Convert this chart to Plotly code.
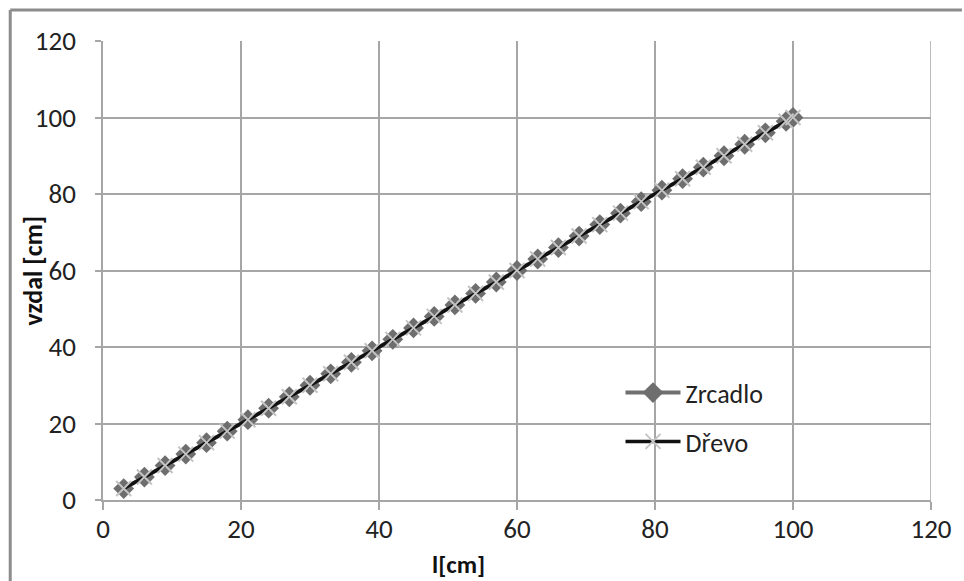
import plotly.graph_objects as go

# Measured distances l [cm] and corresponding readings for each material
l_cm = [3, 6, 9, 12, 15, 18, 21, 24, 27, 30, 33, 36, 39, 42, 45, 48, 51, 54,
        57, 60, 63, 66, 69, 72, 75, 78, 81, 84, 87, 90, 93, 96, 99, 100]
zrcadlo = [3, 6, 9, 12, 15, 18, 21, 24, 27, 30, 33, 36, 39, 42, 45, 48, 51, 54,
           57, 60, 63, 66, 69, 72, 75, 78, 81, 84, 87, 90, 93, 96, 99, 100]
drevo = [3, 6, 9, 12, 15, 18, 21, 24, 27, 30, 33, 36, 39, 42, 45, 48, 51, 54,
         57, 60, 63, 66, 69, 72, 75, 78, 81, 84, 87, 90, 93, 96, 99, 100]

tick_vals = [0, 20, 40, 60, 80, 100, 120]

FONT = "Carlito, Calibri, Lato, sans-serif"

fig = go.Figure()
fig.add_trace(go.Scatter(
    x=l_cm, y=zrcadlo, name="Zrcadlo", mode="lines+markers",
    legendgroup="a",
    line=dict(color="#707070", width=4),
    marker=dict(symbol="diamond", size=16, color="#6e6e6e"),
))
fig.add_trace(go.Scatter(
    x=l_cm, y=drevo, name="Dřevo", mode="lines+markers",
    legendgroup="b",
    line=dict(color="#111111", width=3.5),
    marker=dict(symbol="x-thin", size=15, color="#c4c4c4",
                line=dict(color="#c4c4c4", width=2)),
))

axis_common = dict(
    range=[0, 120], tickvals=tick_vals,
    showgrid=True, gridcolor="#a6a6a6", gridwidth=1.5,
    showline=True, linecolor="#a6a6a6", linewidth=1.5,
    ticks="outside", tickcolor="#a6a6a6", tickwidth=1.5,
    tickfont=dict(family=FONT, size=27, color="#222222"),
    zeroline=False, mirror=False,
)

fig.update_xaxes(**axis_common, ticklen=8, ticklabelstandoff=-4)
fig.update_yaxes(**axis_common, ticklen=6, ticklabelstandoff=14)

# Axis titles
fig.add_annotation(text="<b>vzdal [cm]</b>", xref="paper", yref="paper",
                   x=-71 / 830, y=0.5, xanchor="center", yanchor="middle",
                   textangle=-90, showarrow=False,
                   font=dict(family=FONT, size=26, color="#111111"))
fig.add_annotation(text="<b>l[cm]</b>", xref="paper", yref="paper",
                   x=(459 - 103) / 830, y=-64 / 459, xanchor="center",
                   yanchor="middle", showarrow=False,
                   font=dict(family=FONT, size=25, color="#111111"))

# Right edge of the plot area (gridline at 120 closes the frame)
fig.add_shape(type="line", xref="x", yref="y", x0=120, x1=120, y0=0, y1=120,
              line=dict(color="#a6a6a6", width=1.5))
# Outer chart frame (top and left edges)
fig.add_shape(type="line", xref="paper", yref="paper",
              x0=-93 / 830, x1=861 / 830, y0=490 / 459, y1=490 / 459,
              line=dict(color="#8c8c8c", width=3))
fig.add_shape(type="line", xref="paper", yref="paper",
              x0=-93 / 830, x1=-93 / 830, y0=490 / 459, y1=-81 / 459,
              line=dict(color="#8c8c8c", width=3))

fig.update_layout(
    width=964, height=581,
    margin=dict(l=103, r=31, t=41, b=81),
    paper_bgcolor="white", plot_bgcolor="white",
    showlegend=True,
    legend=dict(x=0.625, y=0.285, xanchor="left", yanchor="top",
                bgcolor="rgba(0,0,0,0)", itemwidth=55,
                tracegroupgap=12, traceorder="grouped",
                font=dict(family=FONT, size=26, color="#222222")),
    font=dict(family=FONT),
)

fig.write_html("out.html")
